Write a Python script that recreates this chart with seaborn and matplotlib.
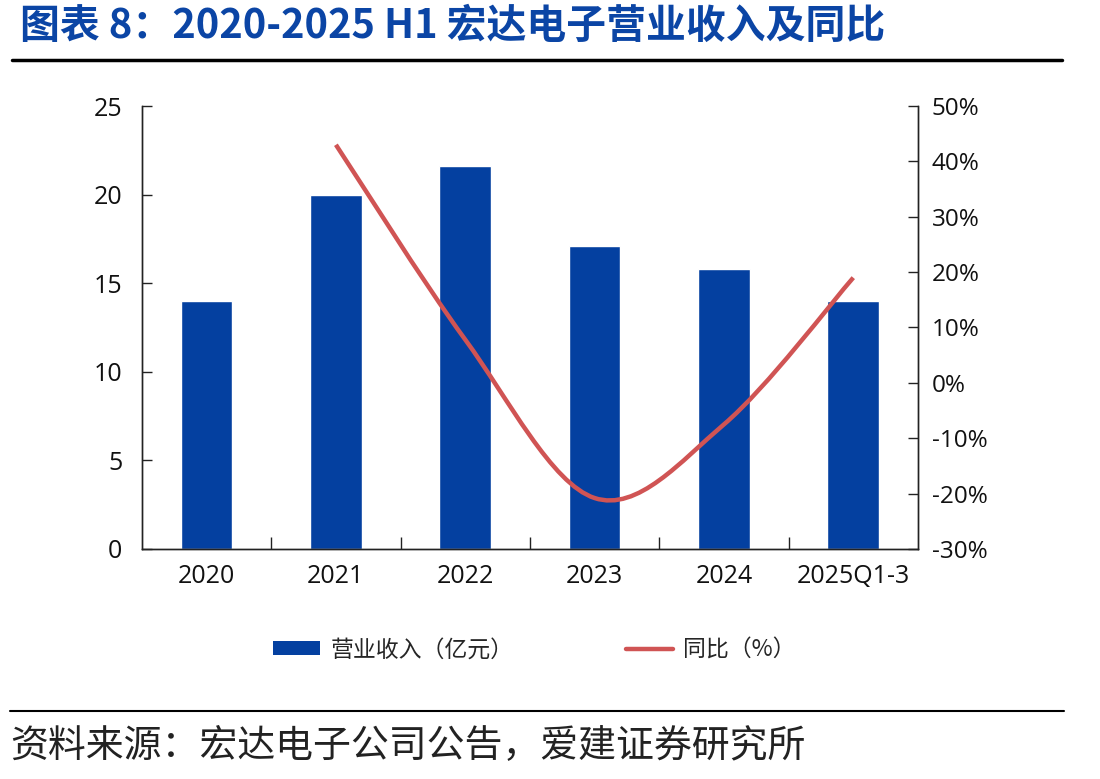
import numpy as np
import matplotlib
matplotlib.use("Agg")
import matplotlib.pyplot as plt
from matplotlib.path import Path
from matplotlib.patches import PathPatch, Patch
from matplotlib.lines import Line2D
from matplotlib.ticker import FixedLocator, FuncFormatter
import seaborn as sns

sns.set_style("white")
plt.rcParams['font.family'] = ['Open Sans', 'Noto Sans CJK SC', 'DejaVu Sans']

# data
years = ['2020', '2021', '2022', '2023', '2024', '2025Q1-3']
revenue = [14.0, 20.0, 21.6, 17.1, 15.8, 14.0]          # 营业收入（亿元）
yoy = [np.nan, 43.0, 7.8, -20.8, -7.5, 19.0]             # 同比（%）

title = '图表 8：2020-2025 H1 宏达电子营业收入及同比'
source = '资料来源：宏达电子公司公告，爱建证券研究所'
bar_label = '营业收入（亿元）'
line_label = '同比（%）'

BLUE = '#0440a0'
RED = '#d05454'
CJK = ['Noto Sans CJK SC', 'DejaVu Sans']

fig = plt.figure(figsize=(11, 7.79), dpi=100)
ax = fig.add_axes([0.129, 0.2953, 0.7055, 0.5686])

sns.barplot(x=years, y=revenue, color=BLUE, saturation=1, width=0.4, ax=ax)
ax.set_xlim(-0.5, len(years) - 0.5)
ax.set_ylim(0, 25)
ax.set_yticks([0, 5, 10, 15, 20, 25])
ax.set_xlabel('')
ax.set_ylabel('')

# smoothed yoy line (Excel-like bezier through the points)
ax2 = ax.twinx()
ax2.set_ylim(-30, 50)
pts = [(i, v) for i, v in enumerate(yoy) if not np.isnan(v)]
verts = [pts[0]]
codes = [Path.MOVETO]
for k in range(len(pts) - 1):
    p0 = np.array(pts[max(k - 1, 0)])
    p1 = np.array(pts[k])
    p2 = np.array(pts[k + 1])
    p3 = np.array(pts[min(k + 2, len(pts) - 1)])
    c1 = p1 + (p2 - p0) / 6
    c2 = p2 - (p3 - p1) / 6
    verts += [tuple(c1), tuple(c2), tuple(p2)]
    codes += [Path.CURVE4] * 3
ax2.add_patch(PathPatch(Path(verts, codes), fill=False, edgecolor=RED, lw=3.2,
                        capstyle='butt', zorder=3))
ax2.set_yticks(range(-30, 60, 10))
ax2.yaxis.set_major_formatter(FuncFormatter(lambda v, p: f'{v:.0f}%'))

for a in (ax, ax2):
    a.spines['top'].set_visible(False)
    for s in ('left', 'right', 'bottom'):
        a.spines[s].set_color('#222222')
        a.spines[s].set_linewidth(1.0)

ax.tick_params(axis='y', direction='in', length=7, width=1, color='#222222',
               labelsize=18, pad=14, labelcolor='#111111', left=True)
ax2.tick_params(axis='y', direction='in', length=7, width=1, color='#222222',
                labelsize=17.5, pad=10, labelcolor='#111111', right=True)
ax.tick_params(axis='x', which='major', length=0, labelsize=18, pad=11,
               labelcolor='#111111')
ax.xaxis.set_minor_locator(FixedLocator(np.arange(0.5, len(years) - 1, 1)))
ax.tick_params(axis='x', which='minor', direction='in', length=9, width=1,
               color='#222222', bottom=True)

handles = [Patch(facecolor=BLUE, edgecolor='none', label=bar_label),
           Line2D([], [], color=RED, lw=3.2, label=line_label)]
fig.legend(handles=handles, loc='center', bbox_to_anchor=(0.486, 0.166), ncol=2,
           frameon=False, prop={'family': CJK, 'size': 16.5},
           handlelength=2.05, handleheight=0.6, handletextpad=0.45,
           columnspacing=4.9)

fig.text(0.018, 0.966, title, family=CJK, fontsize=28.7, fontweight='bold',
         color='#0b45a5', va='center', ha='left')
fig.add_artist(Line2D([0.011, 0.965], [1 - 60 / 779] * 2, color='black', lw=2.5))
fig.add_artist(Line2D([0.009, 0.967], [1 - 711 / 779] * 2, color='black', lw=1.5))
fig.text(0.009, 0.042, source, family=CJK, fontsize=27.3, color='#222222',
         va='center', ha='left')

fig.savefig('out.png', dpi=100)
